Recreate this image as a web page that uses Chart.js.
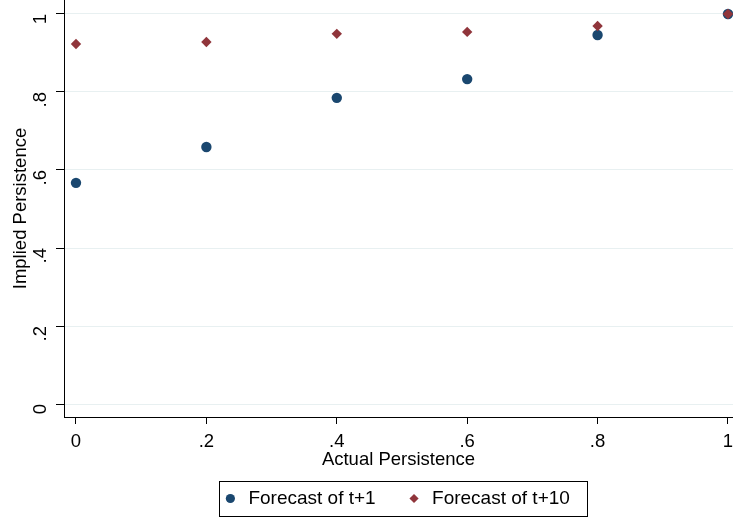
<!DOCTYPE html>
<html>
<head>
<meta charset="utf-8">
<script src="https://cdn.jsdelivr.net/npm/chart.js@4"></script>
<style>
  html, body { margin: 0; padding: 0; background: #fff; }
  #wrap { width: 733px; height: 518px; }
</style>
</head>
<body>
<div id="wrap"><canvas id="myChart"></canvas></div>
<script>
const actualPersistence = [0, 0.2, 0.4, 0.6, 0.8, 1];
const forecastT1 = [0.567, 0.659, 0.785, 0.833, 0.946, 1.0];
const forecastT10 = [0.923, 0.928, 0.949, 0.954, 0.969, 1.0];
const seriesLabels = ['Forecast of t+1', 'Forecast of t+10'];
const tickValues = [0, 0.2, 0.4, 0.6, 0.8, 1];

const FONT = 'Liberation Sans, Arial, sans-serif';
const FSIZE = 18.5;

const fmt = v => {
    if (Math.abs(v) < 1e-9) return '0';
    if (Math.abs(v - 1) < 1e-9) return '1';
    return String(+v.toFixed(1)).replace(/^0/, '');
};

const toPoints = ys => actualPersistence.map((x, i) => ({ x: x, y: ys[i] }));

// frame around the legend, like Stata draws it
const legendBox = {
    id: 'legendBox',
    afterDraw(chart) {
        const boxes = chart.legend.legendHitBoxes;
        if (!boxes || !boxes.length) return;
        const left = Math.min(...boxes.map(b => b.left)) - 8;
        const right = Math.max(...boxes.map(b => b.left + b.width)) + 17;
        const top = Math.min(...boxes.map(b => b.top)) - 8;
        const bottom = Math.max(...boxes.map(b => b.top + b.height)) + 8;
        const ctx = chart.ctx;
        ctx.save();
        ctx.strokeStyle = '#000';
        ctx.lineWidth = 1;
        ctx.strokeRect(Math.round(left) + 0.5, Math.round(top) + 0.5, Math.round(right - left), Math.round(bottom - top));
        ctx.restore();
    }
};

const ctx = document.getElementById('myChart');
const myChart = new Chart(ctx, {
    type: 'scatter',
    data: {
        datasets: [
            {
                label: seriesLabels[0],
                data: toPoints(forecastT1),
                backgroundColor: '#1a476f',
                borderColor: '#1a476f',
                pointStyle: 'circle',
                pointRadius: 5.2,
                pointBorderWidth: 0,
                order: 2
            },
            {
                label: seriesLabels[1],
                data: toPoints(forecastT10),
                backgroundColor: '#90353b',
                borderColor: '#90353b',
                pointStyle: 'rectRot',
                pointRadius: 5.2,
                pointBorderWidth: 0,
                order: 1
            }
        ]
    },
    options: {
        responsive: true,
        maintainAspectRatio: false,
        animation: false,
        layout: { padding: 0, autoPadding: false },
        scales: {
            x: {
                type: 'linear',
                min: -0.0184,
                max: 1.0077,
                afterBuildTicks: axis => { axis.ticks = tickValues.map(v => ({ value: v })); },
                afterFit: scale => {
                    scale.height = 58;
                    scale.paddingLeft = 0;
                    scale.paddingRight = 0;
                },
                ticks: {
                    callback: fmt,
                    color: '#000',
                    font: { family: FONT, size: FSIZE },
                    padding: 7,
                    maxRotation: 0
                },
                grid: { drawOnChartArea: false, drawTicks: true, tickLength: 7, tickColor: '#000' },
                border: { display: true, color: '#000', width: 1 },
                title: {
                    display: true,
                    text: 'Actual Persistence',
                    color: '#000',
                    font: { family: FONT, size: FSIZE },
                    padding: { top: 0, bottom: 4 }
                }
            },
            y: {
                type: 'linear',
                min: -0.0332,
                max: 1.0358,
                afterBuildTicks: axis => { axis.ticks = tickValues.map(v => ({ value: v })); },
                afterFit: scale => {
                    scale.width = 64;
                    scale.paddingTop = 0;
                    scale.paddingBottom = 0;
                },
                ticks: {
                    callback: fmt,
                    color: '#000',
                    font: { family: FONT, size: FSIZE },
                    minRotation: 90,
                    maxRotation: 90,
                    padding: 15.5
                },
                grid: { color: '#e8f0f1', lineWidth: 1, drawTicks: true, tickLength: 8, tickColor: '#000' },
                border: { display: true, color: '#000', width: 1 },
                title: {
                    display: true,
                    text: 'Implied Persistence',
                    color: '#000',
                    font: { family: FONT, size: FSIZE },
                    padding: { top: 10, bottom: 0 }
                }
            }
        },
        plugins: {
            legend: {
                position: 'bottom',
                fullSize: false,
                labels: {
                    usePointStyle: true,
                    color: '#000',
                    font: { family: FONT, size: 19 },
                    boxWidth: 6.5,
                    boxHeight: 6.5,
                    padding: 14,
                    generateLabels: chart => {
                        const items = Chart.defaults.plugins.legend.labels.generateLabels(chart);
                        items.sort((a, b) => a.datasetIndex - b.datasetIndex);
                        items.forEach((item, i) => {
                            item.text = ' ' + item.text + (i < items.length - 1 ? '    ' : '');
                        });
                        return items;
                    }
                }
            },
            tooltip: { enabled: false }
        }
    },
    plugins: [legendBox]
});
</script>
</body>
</html>
